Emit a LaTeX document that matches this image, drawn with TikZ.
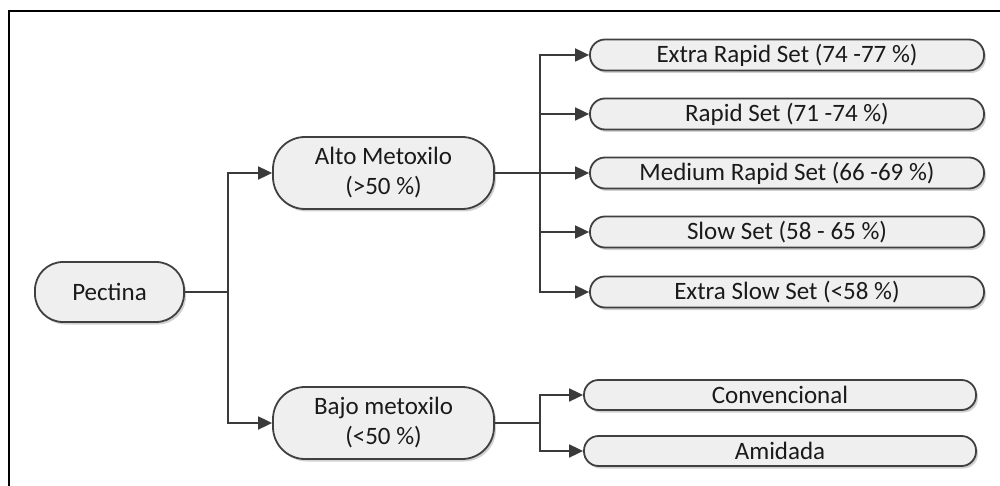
\documentclass[tikz,border=0pt]{standalone}
\usepackage{fontspec}
\setmainfont{Carlito}
\usetikzlibrary{shadows,arrows.meta}
\definecolor{boxfill}{HTML}{EFEFEF}
\definecolor{boxline}{HTML}{404040}
\definecolor{lineclr}{HTML}{3A3A3A}
\definecolor{txt}{HTML}{1A1A1A}
\tikzset{
  pill/.style={draw=boxline, line width=1.8pt, fill=boxfill, rounded corners=#1,
    inner sep=0pt, align=center, font=\fontsize{25}{30}\selectfont, text=txt,
    drop shadow={shadow xshift=2pt, shadow yshift=-2.5pt, fill=black!30, opacity=0.6}},
  conn/.style={draw=lineclr, line width=1.8pt},
  arr/.style={conn, -{Triangle[length=14pt,width=13pt]}},
  frame/.style={draw=black, line width=2.2pt},
}
\begin{document}
\begin{tikzpicture}[x=1pt,y=-1pt]
\useasboundingbox (0,0) rectangle (1000,486);
\draw[frame] (9,490) -- (9,11) -- (1002,11);

\node[pill=28pt, minimum width=149pt, minimum height=60pt] (pec) at (109.5,292) {Pectina};
\node[pill=32pt, minimum width=221pt, minimum height=72pt] (alto) at (383.5,173) {Alto Metoxilo\\(>50 \%)};
\node[pill=32pt, minimum width=221pt, minimum height=72pt] (bajo) at (383.5,423) {Bajo metoxilo\\(<50 \%)};

\node[pill=15pt, minimum width=394pt, minimum height=31pt] (er) at (787,55) {Extra Rapid Set (74 -77 \%)};
\node[pill=15pt, minimum width=394pt, minimum height=31pt] (r) at (787,114) {Rapid Set (71 -74 \%)};
\node[pill=15pt, minimum width=394pt, minimum height=31pt] (mr) at (787,173) {Medium Rapid Set (66 -69 \%)};
\node[pill=15pt, minimum width=394pt, minimum height=31pt] (s) at (787,232) {Slow Set (58 - 65 \%)};
\node[pill=15pt, minimum width=394pt, minimum height=31pt] (es) at (787,292) {Extra Slow Set (<58 \%)};

\node[pill=14.5pt, minimum width=392pt, minimum height=30pt] (conv) at (780,395) {Convencional};
\node[pill=14.5pt, minimum width=392pt, minimum height=30pt] (ami) at (780,451) {Amidada};

\coordinate (j1) at (228,292);
\coordinate (j2) at (540,173);
\coordinate (j3) at (540,423);

\draw[conn] (pec.east) -- (j1);
\draw[arr] (j1) |- (alto.west);
\draw[arr] (j1) |- (bajo.west);

\draw[conn] (alto.east) -- (j2);
\draw[arr] (j2) |- (er.west);
\draw[arr] (j2) |- (r.west);
\draw[arr] (j2) |- (mr.west);
\draw[arr] (j2) |- (s.west);
\draw[arr] (j2) |- (es.west);

\draw[conn] (bajo.east) -- (j3);
\draw[arr] (j3) |- (conv.west);
\draw[arr] (j3) |- (ami.west);
\end{tikzpicture}
\end{document}
